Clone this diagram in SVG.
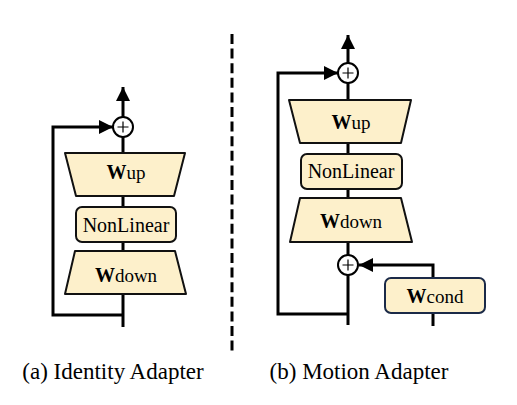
<svg xmlns="http://www.w3.org/2000/svg" width="517" height="405" viewBox="0 0 517 405">
<style>
.blk{fill:#fdf0cb;stroke:#111;stroke-width:2;stroke-linejoin:round}
.cond{fill:#fdf0cb;stroke:#1b2a48;stroke-width:2}
.ln{fill:none;stroke:#000;stroke-width:3}
.sum{fill:#fff;stroke:#000;stroke-width:2}
.plus{stroke:#000;stroke-width:1.2}
text{font-family:"Liberation Serif","Times New Roman",serif;font-size:20px;fill:#000;text-anchor:middle}
.b{font-weight:bold}
.sub{font-size:19px}
.cap{font-size:23px}
</style>
<defs>
<marker id="ah" viewBox="0 0 14 14" refX="14" refY="7" markerWidth="14" markerHeight="14" markerUnits="userSpaceOnUse" orient="auto">
<path d="M0,0 L14,7 L0,14 Z" fill="#000"/>
</marker>
</defs>
<rect width="517" height="405" fill="#fff"/>
<g id="connectors">
<line class="ln" x1="123" y1="327" x2="123" y2="87" marker-end="url(#ah)"/>
<path class="ln" d="M123,315 H53 V127 H113" marker-end="url(#ah)"/>
<line class="ln" x1="348" y1="325" x2="348" y2="35" marker-end="url(#ah)"/>
<path class="ln" d="M348,314 H278 V73 H338" marker-end="url(#ah)"/>
<path class="ln" d="M433,326 V265 H359" marker-end="url(#ah)"/>
<line x1="232" y1="34" x2="232" y2="353" stroke="#000" stroke-width="3" stroke-dasharray="10,4.6"/>
</g>
<g id="a_sum">
<circle class="sum" cx="123" cy="127" r="10"/>
<path class="plus" d="M117.5,127 H128.5 M123,121.5 V132.5"/>
</g>
<g id="a_wup">
<polygon class="blk" points="65,153 185,153 174,196 76,196"/>
<text x="126" y="179"><tspan class="b">W</tspan><tspan class="sub">up</tspan></text>
</g>
<g id="a_nonlinear">
<rect class="blk" x="76" y="207" width="100" height="35" rx="6"/>
<text x="126" y="232">NonLinear</text>
</g>
<g id="a_wdown">
<polygon class="blk" points="75,251 175,251 186,294 65,294"/>
<text x="126" y="282"><tspan class="b">W</tspan><tspan class="sub">down</tspan></text>
</g>
<g id="b_sum_top">
<circle class="sum" cx="348" cy="73" r="10"/>
<path class="plus" d="M342.5,73 H353.5 M348,67.5 V78.5"/>
</g>
<g id="b_wup">
<polygon class="blk" points="289,100 411,100 401,143 300,143"/>
<text x="351" y="129"><tspan class="b">W</tspan><tspan class="sub">up</tspan></text>
</g>
<g id="b_nonlinear">
<rect class="blk" x="301" y="154" width="101" height="35" rx="6"/>
<text x="351" y="178">NonLinear</text>
</g>
<g id="b_wdown">
<polygon class="blk" points="300,198 401,198 412,242 290,242"/>
<text x="351" y="228"><tspan class="b">W</tspan><tspan class="sub">down</tspan></text>
</g>
<g id="b_sum_bottom">
<circle class="sum" cx="348" cy="265" r="10"/>
<path class="plus" d="M342.5,265 H353.5 M348,259.5 V270.5"/>
</g>
<g id="b_wcond">
<rect class="cond" x="385" y="278" width="100" height="35" rx="6"/>
<text x="435" y="303"><tspan class="b">W</tspan><tspan class="sub">cond</tspan></text>
</g>
<g id="captions">
<text class="cap" x="113" y="379">(a) Identity Adapter</text>
<text class="cap" x="359" y="379">(b) Motion Adapter</text>
</g>
</svg>
